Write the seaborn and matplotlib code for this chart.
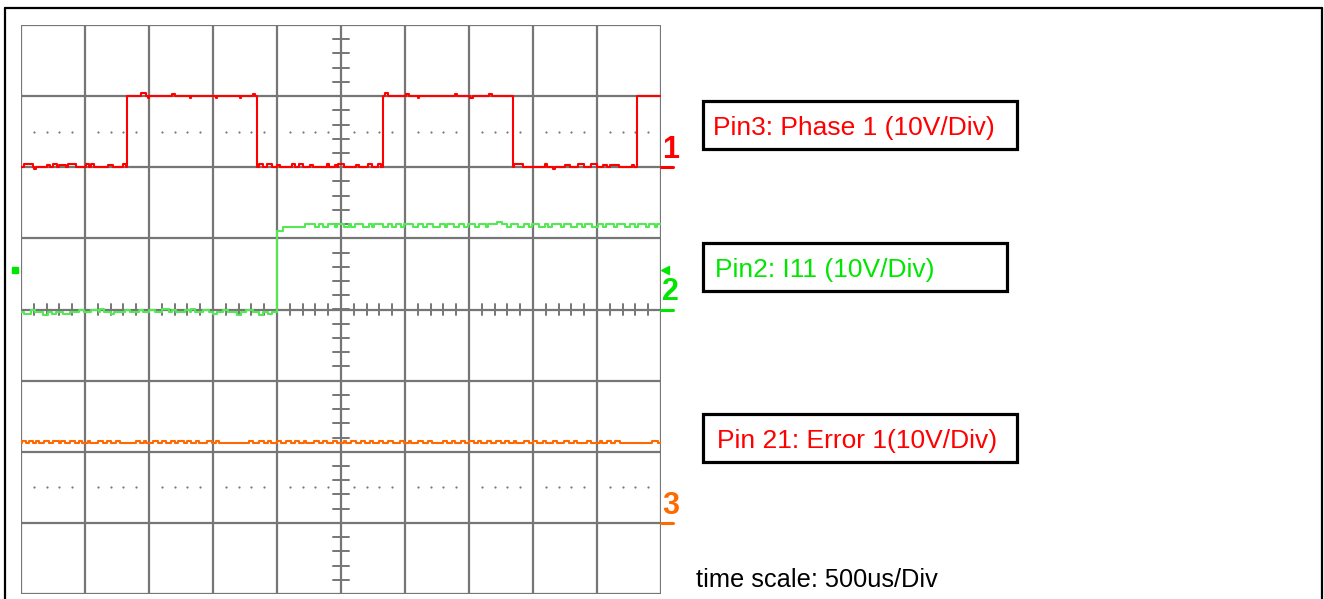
import numpy as np
import pandas as pd
import matplotlib
matplotlib.use("Agg")
import matplotlib.pyplot as plt
import seaborn as sns
from matplotlib.patches import Rectangle
from matplotlib.lines import Line2D
from matplotlib import font_manager

sns.set_style("white")
plt.rcParams['font.family'] = ['Liberation Sans', 'DejaVu Sans']

# ---------------- data (time in ms, voltage in V) ----------------
T_END = 5.0                      # 10 div x 500 us
V_PER_DIV = 10.0
ch_offsets_div = [2.0, 0.0, -3.0]  # ground markers of channels 1, 2, 3

# Channel 1 : Pin3 Phase 1 (square wave)
ch1_edges = [0.83, 1.84, 2.83, 3.84, 4.81]
ch1_levels = [0.0, 10.0, 0.0, 10.0, 0.0, 10.0]
ch1_gt = [0.02, 0.10, 0.20, 0.25, 0.30, 0.37, 0.51, 0.55, 0.68, 0.80,
          0.94, 0.99, 1.18, 1.32, 1.52, 1.71, 1.81,
          1.86, 1.92, 2.00, 2.12, 2.17, 2.26, 2.39, 2.45, 2.48, 2.62, 2.71, 2.79,
          2.84, 3.01, 3.10, 3.39, 3.51, 3.66,
          3.85, 4.09, 4.16, 4.25, 4.35, 4.45, 4.55, 4.60, 4.77]
ch1_gw = [0.07, 0.02, 0.03, 0.03, 0.05, 0.06, 0.02, 0.02, 0.04, 0.02,
          0.04, 0.01, 0.02, 0.01, 0.01, 0.01, 0.02,
          0.03, 0.04, 0.02, 0.02, 0.03, 0.02, 0.02, 0.02, 0.04, 0.02, 0.03, 0.02,
          0.03, 0.02, 0.01, 0.02, 0.02, 0.02,
          0.07, 0.02, 0.01, 0.04, 0.05, 0.05, 0.03, 0.07, 0.02]
ch1_gdv = [0.4, -0.3, 0.3, 0.4, 0.3, 0.4, 0.4, 0.4, 0.3, 0.4,
           0.4, -0.3, 0.3, -0.3, -0.2, -0.2, 0.3,
           0.4, 0.4, 0.3, 0.4, 0.4, 0.3, 0.4, 0.3, 0.4, 0.3, 0.4, 0.4,
           0.4, 0.3, -0.2, 0.3, -0.2, 0.3,
           0.4, 0.4, -0.3, 0.3, 0.4, 0.4, 0.3, 0.3, 0.3]

# Channel 2 : Pin2 I11 (step)
ch2_edges = [2.00, 2.05, 2.22]
ch2_levels = [-0.4, 11.0, 11.6, 12.0]
ch2_gt = [0.02, 0.08, 0.17, 0.24, 0.33, 0.45, 0.55, 0.62, 0.70, 0.81, 0.92,
          1.00, 1.10, 1.18, 1.28, 1.33, 1.42, 1.50, 1.58, 1.69, 1.76, 1.86, 1.93,
          2.30, 2.36, 2.45, 2.52, 2.58, 2.67, 2.74, 2.83, 2.90, 2.97, 3.06,
          3.14, 3.22, 3.31, 3.38, 3.46, 3.55, 3.63, 3.72, 3.80, 3.88, 3.97,
          4.05, 4.12, 4.22, 4.30, 4.38, 4.46, 4.55, 4.63, 4.72, 4.80, 4.88, 4.95]
ch2_gw = [0.06, 0.03, 0.04, 0.03, 0.05, 0.04, 0.06, 0.03, 0.03, 0.04, 0.03,
          0.05, 0.06, 0.03, 0.04, 0.03, 0.05, 0.03, 0.04, 0.03, 0.05, 0.03, 0.03,
          0.03, 0.04, 0.02, 0.04, 0.03, 0.05, 0.02, 0.04, 0.03, 0.02, 0.04,
          0.03, 0.05, 0.02, 0.04, 0.03, 0.03, 0.02, 0.04, 0.03, 0.05, 0.02,
          0.04, 0.03, 0.02, 0.04, 0.03, 0.05, 0.02, 0.03, 0.04, 0.02, 0.03, 0.02]
ch2_gdv = [-0.3, 0.4, -0.4, -0.3, -0.3, 0.4, 0.3, 0.5, -0.3, 0.4, 0.3,
           0.4, 0.5, 0.3, 0.4, 0.5, 0.3, -0.3, 0.4, -0.4, 0.3, -0.4, -0.3,
           -0.4, -0.4, -0.4, -0.4, -0.4, -0.4, -0.4, -0.4, -0.4, -0.4, -0.4,
           -0.4, -0.4, -0.4, -0.4, -0.4, -0.4, -0.4, 0.3, -0.4, -0.4, -0.4,
           -0.4, -0.4, -0.4, -0.4, -0.4, -0.4, -0.4, -0.4, -0.4, -0.4, -0.4, -0.4]

# Channel 3 : Pin 21 Error 1 (flat)
ch3_edges = []
ch3_levels = [11.2]
ch3_gt = [0.01, 0.06, 0.12, 0.18, 0.25, 0.31, 0.38, 0.45, 0.52, 0.60, 0.67,
          0.74, 0.90, 0.96, 1.03, 1.10, 1.17, 1.23, 1.30, 1.37, 1.45, 1.52,
          1.78, 1.86, 1.93, 2.00, 2.07, 2.14, 2.21, 2.29, 2.36, 2.44, 2.52,
          2.58, 2.66, 2.73, 2.80, 2.87, 2.96, 3.03, 3.10, 3.18, 3.30, 3.37,
          3.44, 3.50, 3.57, 3.64, 3.71, 3.78, 3.85, 3.93, 4.00, 4.08,
          4.16, 4.24, 4.32, 4.42, 4.52, 4.58, 4.64, 4.93]
ch3_gw = [0.03, 0.03, 0.02, 0.04, 0.05, 0.03, 0.04, 0.03, 0.02, 0.04, 0.03,
          0.03, 0.03, 0.02, 0.04, 0.03, 0.03, 0.04, 0.03, 0.02, 0.04, 0.03,
          0.03, 0.04, 0.02, 0.03, 0.04, 0.03, 0.02, 0.04, 0.03, 0.03, 0.02,
          0.04, 0.03, 0.02, 0.03, 0.04, 0.03, 0.02, 0.04, 0.03, 0.03, 0.02,
          0.03, 0.04, 0.02, 0.03, 0.04, 0.03, 0.02, 0.04, 0.03, 0.02,
          0.03, 0.04, 0.02, 0.03, 0.02, 0.03, 0.04, 0.05]
ch3_gdv = [0.35] * len(ch3_gt)

channel_colors = ['#ff0000', '#55e855', '#ff6a00']
label_colors = ['#ff0000', '#00e600', '#ff6a00']
box_texts = ['Pin3: Phase 1 (10V/Div)', 'Pin2: I11 (10V/Div)', 'Pin 21: Error 1(10V/Div)']
box_text_colors = ['#ff0000', '#00e600', '#ff0000']
time_text = 'time scale: 500us/Div'
channel_marks = ['1', '2', '3']


def build(edges, levels, gt, gw, gdv, t_end=T_END):
    bps = {0.0, t_end}
    bps.update(edges)
    for t, w in zip(gt, gw):
        bps.add(t)
        bps.add(min(t + w, t_end))
    bps = sorted(b for b in bps if 0.0 <= b <= t_end)
    vals = []
    for b in bps:
        i = int(np.searchsorted(np.array(edges, dtype=float), b, side='right')) if edges else 0
        v = levels[i]
        for t, w, d in zip(gt, gw, gdv):
            if t <= b < t + w:
                v += d
        vals.append(v)
    return np.array(bps), np.array(vals)


def narrow_family():
    for fam in ['Liberation Sans Narrow', 'DejaVu Sans Condensed', 'Liberation Sans']:
        try:
            font_manager.findfont(font_manager.FontProperties(family=fam),
                                  fallback_to_default=False)
            return fam
        except Exception:
            continue
    return 'DejaVu Sans'


# ---------------- figure ----------------
W, H = 1324, 599
fig = plt.figure(figsize=(W / 100, H / 100), dpi=100)
fig.patch.set_facecolor('white')
ax = fig.add_axes([21 / W, 1 - 594 / H, 640 / W, 569 / H])

grid_c = '#767676'
# graticule
for xv in np.arange(0, T_END + 1e-9, 0.5):
    ax.axvline(xv, color=grid_c, lw=1.6, zorder=1)
for yv in range(-4, 5):
    ax.axhline(yv, color=grid_c, lw=1.6, zorder=1)
# centre-line minor ticks
xc = T_END / 2
for yv in np.arange(-4, 4.0001, 0.2):
    ax.plot([xc - 0.0625, xc + 0.0625], [yv, yv], color=grid_c, lw=1.4, zorder=1)
for xv in np.arange(0, T_END + 1e-9, 0.1):
    ax.plot([xv, xv], [-0.075, 0.075], color=grid_c, lw=1.4, zorder=1)
# dotted rows
dot_x = [x for x in np.arange(0.1, T_END, 0.1) if abs((x / 0.5) - round(x / 0.5)) > 1e-6]
for yv in (2.5, -2.5):
    ax.scatter(dot_x, [yv] * len(dot_x), s=2.5, color=grid_c, zorder=1, linewidths=0)

# traces
specs = [
    (ch1_edges, ch1_levels, ch1_gt, ch1_gw, ch1_gdv),
    (ch2_edges, ch2_levels, ch2_gt, ch2_gw, ch2_gdv),
    (ch3_edges, ch3_levels, ch3_gt, ch3_gw, ch3_gdv),
]
for k, spec in enumerate(specs):
    t, v = build(*spec)
    df = pd.DataFrame({'t': t, 'y': ch_offsets_div[k] + v / V_PER_DIV})
    sns.lineplot(data=df, x='t', y='y', drawstyle='steps-post', estimator=None,
                 sort=False, color=channel_colors[k], lw=1.5, ax=ax, zorder=3)

ax.set_xlim(0, T_END)
ax.set_ylim(-4, 4)
ax.axis('off')

# channel markers on the right
nf = narrow_family()
for k in range(3):
    y0 = ch_offsets_div[k]
    ax.plot([T_END, T_END + 0.09], [y0, y0], color=label_colors[k], lw=2.2, clip_on=False)
    ax.text(T_END + 0.008, y0 + 0.03, channel_marks[k], color=label_colors[k], fontsize=22,
            family=nf, fontweight='bold', ha='left', va='bottom', clip_on=False)
# trigger markers (ch2)
ax.plot([T_END + 0.03], [0.55], marker='<', ms=6, color=label_colors[1], clip_on=False)
ax.plot([-0.045], [0.55], marker='s', ms=4, color=label_colors[1], clip_on=False)

# outer frame
fk = dict(transform=fig.transFigure, color='black', lw=1.6)
fig.add_artist(Line2D([5 / W, 5 / W], [0, 1 - 8 / H], **fk))
fig.add_artist(Line2D([5 / W, 1322 / W], [1 - 8 / H, 1 - 8 / H], **fk))
fig.add_artist(Line2D([1322 / W, 1322 / W], [0, 1 - 8 / H], **fk))

# annotation boxes
boxes = [(703, 101, 1017, 149), (703, 243, 1007, 291), (703, 414, 1017, 462)]
text_x = [713, 715, 717]
for (x0, y0, x1, y1), txt, col, tx in zip(boxes, box_texts, box_text_colors, text_x):
    fig.add_artist(Rectangle((x0 / W, 1 - y1 / H), (x1 - x0) / W, (y1 - y0) / H,
                             transform=fig.transFigure, fill=False, ec='black', lw=2.3))
    fig.text(tx / W, 1 - ((y0 + y1) / 2 + 3) / H, txt, color=col, fontsize=19,
             ha='left', va='center')
fig.text(696 / W, 1 - 580 / H, time_text, color='black', fontsize=18.3, ha='left', va='center')

fig.savefig('out.png', dpi=100, facecolor='white')
